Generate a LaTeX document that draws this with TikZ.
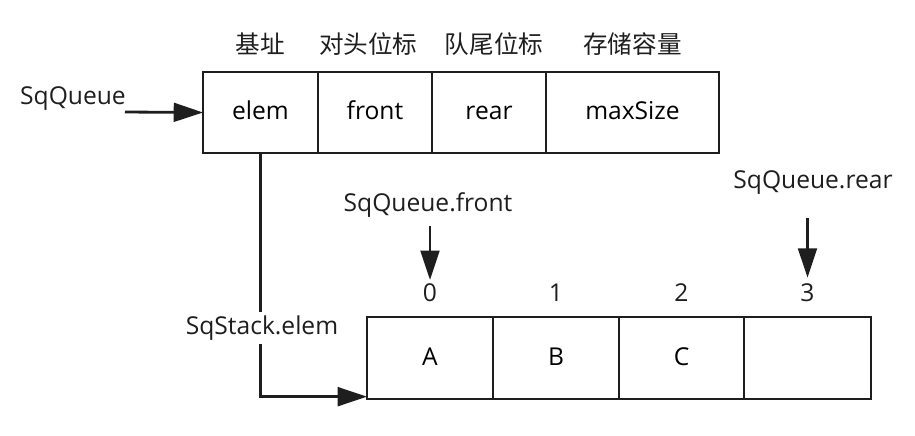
\documentclass[tikz,border=0pt]{standalone}
\usepackage{fontspec}
\setmainfont{Open Sans}
\newfontfamily\cjk{Noto Sans CJK SC}
\usepackage{tikz}
\usetikzlibrary{arrows.meta, positioning}
\definecolor{mydark}{RGB}{30,30,30}
\newcommand{\lblfont}{\fontsize{21}{25}\selectfont}
\tikzset{
  cell/.style={rectangle, draw=mydark, line width=2.2pt, outer sep=0pt,
    inner sep=0pt, minimum height=2.43cm, font=\lblfont,
    text height=16pt, text depth=4pt},
  arrcell/.style={cell, minimum width=3.78cm, minimum height=2.46cm},
  lbl/.style={font=\lblfont, text=mydark},
  toplbl/.style={font=\cjk\lblfont, text=mydark, inner sep=0pt},
  idx/.style={font=\lblfont, text=mydark, inner sep=0pt},
  arrow/.style={-{Triangle[length=25pt, width=16pt]}, line width=2.4pt, color=mydark},
  line/.style={line width=2.4pt, color=mydark}
}

\begin{document}
\begin{tikzpicture}[x=0.03cm, y=-0.03cm]
  \useasboundingbox (0,0) rectangle (915,435);

  % queue record
  \node[cell, minimum width=3.45cm, anchor=north west] (elem) at (203,72) {elem};
  \node[cell, minimum width=3.42cm, right=0pt of elem] (front) {front};
  \node[cell, minimum width=3.42cm, right=0pt of front] (rear) {rear};
  \node[cell, minimum width=5.19cm, right=0pt of rear] (maxsize) {maxSize};

  \node[toplbl, above=0.5cm of elem] (base) {基址};
  \node[toplbl, above=0.5cm of front, xshift=-0.2cm] (fronttxt) {对头位标};
  \node[toplbl, above=0.5cm of rear, xshift=0.15cm] (reartxt) {队尾位标};
  \node[toplbl, above=0.5cm of maxsize] (sizetxt) {存储容量};

  \node[lbl] (queue) at (73,99) {SqQueue};
  \coordinate (qstart) at (125,112);
  \draw[arrow] (qstart) -- (elem.west);

  % element array
  \node[arrcell, anchor=north west] (a) at (367,317) {A};
  \node[arrcell, right=0pt of a] (b) {B};
  \node[arrcell, minimum width=3.75cm, right=0pt of b] (c) {C};
  \node[arrcell, minimum width=3.81cm, right=0pt of c] (d) {};

  \node[idx, above=0.45cm of a] (i0) {0};
  \node[idx, above=0.45cm of b] (i1) {1};
  \node[idx, above=0.45cm of c] (i2) {2};
  \node[idx, above=0.45cm of d] (i3) {3};

  \node[lbl] (frontptr) at (428,205) {SqQueue.front};
  \node[lbl] (rearptr) at (813,183) {SqQueue.rear};
  \draw[arrow, shorten <=4pt, shorten >=3pt] (frontptr.south -| i0) -- (i0.north);
  \draw[arrow, shorten <=16pt, shorten >=5pt] (rearptr.south -| i3) -- (i3.north);

  \draw[arrow] (elem.south) |- ([yshift=2pt]a.south west);
  \node[lbl, fill=white] (stack) at (262,328) {SqStack.elem};
\end{tikzpicture}
\end{document}
